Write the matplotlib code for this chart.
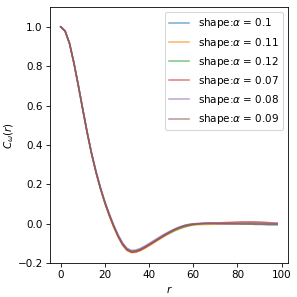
import matplotlib
matplotlib.use('Agg')
import matplotlib.pyplot as plt

# r sampled every 2 units, 0..98
r = list(range(0, 100, 2))

labels = ['0.1', '0.11', '0.12', '0.07', '0.08', '0.09']

c_010 = [1.000, 0.978, 0.915, 0.815, 0.700, 0.580, 0.462, 0.355, 0.262, 0.181, 0.109,
         0.047, -0.010, -0.060, -0.101, -0.128, -0.139, -0.137, -0.129, -0.117, -0.104, -0.090,
         -0.076, -0.062, -0.049, -0.037, -0.026, -0.017, -0.010, -0.005, -0.002, 0.000,
         0.001, 0.002, 0.002, 0.002, 0.001, 0.001, 0.000, 0.000, 0.000, -0.001, -0.001, -0.002,
         -0.003, -0.003, -0.004, -0.005, -0.005, -0.005]
c_011 = [1.000, 0.978, 0.914, 0.813, 0.698, 0.577, 0.459, 0.352, 0.258, 0.176, 0.103,
         0.039, -0.018, -0.068, -0.109, -0.136, -0.147, -0.145, -0.137, -0.125, -0.112, -0.098,
         -0.084, -0.070, -0.057, -0.045, -0.034, -0.025, -0.017, -0.011, -0.007, -0.005,
         -0.004, -0.004, -0.003, -0.003, -0.002, -0.002, -0.001, -0.001, 0.000, 0.000, 0.000, 0.001,
         0.001, 0.001, 0.001, 0.000, 0.000, 0.000]
c_012 = [1.000, 0.978, 0.915, 0.815, 0.700, 0.579, 0.461, 0.354, 0.261, 0.179, 0.107,
         0.044, -0.013, -0.063, -0.104, -0.131, -0.142, -0.140, -0.132, -0.120, -0.107, -0.093,
         -0.080, -0.067, -0.054, -0.043, -0.032, -0.023, -0.016, -0.010, -0.005, -0.002,
         0.000, 0.001, 0.001, 0.002, 0.002, 0.003, 0.003, 0.004, 0.004, 0.005, 0.005, 0.005,
         0.004, 0.004, 0.003, 0.002, 0.002, 0.001]
c_007 = [1.000, 0.978, 0.914, 0.814, 0.699, 0.578, 0.460, 0.353, 0.259, 0.177, 0.105,
         0.041, -0.016, -0.066, -0.107, -0.134, -0.145, -0.143, -0.135, -0.123, -0.109, -0.095,
         -0.080, -0.066, -0.052, -0.039, -0.027, -0.017, -0.009, -0.004, -0.001, 0.001,
         0.002, 0.003, 0.004, 0.004, 0.005, 0.006, 0.007, 0.008, 0.009, 0.010, 0.010, 0.010,
         0.010, 0.009, 0.008, 0.006, 0.004, 0.003]
c_008 = [1.000, 0.979, 0.917, 0.818, 0.703, 0.584, 0.466, 0.359, 0.266, 0.185, 0.113,
         0.051, -0.006, -0.056, -0.097, -0.124, -0.135, -0.133, -0.125, -0.113, -0.100, -0.086,
         -0.072, -0.058, -0.046, -0.034, -0.024, -0.015, -0.008, -0.003, 0.000, 0.001,
         0.002, 0.003, 0.003, 0.002, 0.002, 0.001, 0.001, 0.001, 0.002, 0.002, 0.003, 0.003,
         0.003, 0.002, 0.002, 0.001, 0.001, 0.001]
c_009 = [1.000, 0.978, 0.915, 0.815, 0.700, 0.580, 0.462, 0.355, 0.262, 0.180, 0.108,
         0.045, -0.012, -0.062, -0.103, -0.130, -0.141, -0.139, -0.131, -0.119, -0.106, -0.092,
         -0.078, -0.064, -0.051, -0.039, -0.028, -0.019, -0.012, -0.007, -0.003, -0.001,
         0.001, 0.001, 0.001, 0.001, 0.000, 0.000, 0.000, -0.001, -0.001, -0.002, -0.002, -0.002,
         -0.003, -0.003, -0.003, -0.004, -0.004, -0.004]

series = [c_010, c_011, c_012, c_007, c_008, c_009]

fig = plt.figure(figsize=(4, 4), dpi=74.25)
ax = fig.add_axes([0.168, 0.114, 0.802, 0.862])
for vals, lab in zip(series, labels):
    ax.plot(r, vals, alpha=0.6, lw=1.5, label=r'shape:$\alpha$ = ' + lab)

ax.set_ylim(-0.2, 1.1)
ax.set_xlabel(r'$r$')
ax.set_ylabel(r'$C_\omega(r)$', labelpad=1)
ax.legend(loc='upper right')
fig.savefig('out.png', dpi=74.25)
